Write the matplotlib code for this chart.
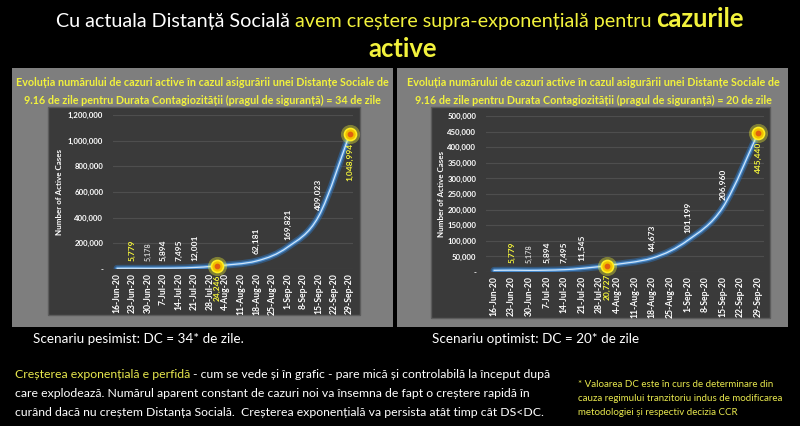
import numpy as np
import matplotlib
matplotlib.use('Agg')
import matplotlib.pyplot as plt
import matplotlib.dates as mdates
from matplotlib.patches import Rectangle, PathPatch
from matplotlib.path import Path

plt.rcParams['font.family'] = ['Lato', 'DejaVu Sans']

# ---- data ----
tick_dates = ['2020-06-16', '2020-06-23', '2020-06-30', '2020-07-07', '2020-07-14',
              '2020-07-21', '2020-07-28', '2020-08-04', '2020-08-11', '2020-08-18',
              '2020-08-25', '2020-09-01', '2020-09-08', '2020-09-15', '2020-09-22',
              '2020-09-29']
tick_labels = ['16-Jun-20', '23-Jun-20', '30-Jun-20', '7-Jul-20', '14-Jul-20',
               '21-Jul-20', '28-Jul-20', '4-Aug-20', '11-Aug-20', '18-Aug-20',
               '25-Aug-20', '1-Sep-20', '8-Sep-20', '15-Sep-20', '22-Sep-20',
               '29-Sep-20']

point_dates = ['2020-06-16', '2020-06-23', '2020-06-30', '2020-07-07', '2020-07-14',
               '2020-07-21', '2020-07-31', '2020-08-18', '2020-09-01', '2020-09-15',
               '2020-09-29']
pes_values = [5200, 5779, 5178, 5894, 7495, 12001, 24246, 62181, 169821, 409023, 1048994]
opt_values = [5200, 5779, 5178, 5894, 7495, 11545, 20727, 44673, 101199, 206960, 445440]

pes_yticks = [0, 200000, 400000, 600000, 800000, 1000000, 1200000]
opt_yticks = [0, 50000, 100000, 150000, 200000, 250000, 300000, 350000, 400000,
              450000, 500000]

highlight = [6, 10]     # points with the yellow marker
yellow_label = [1]      # label drawn in yellow above the point
faint_label = [2]
no_label = [0]

W, H = 800, 426
fig = plt.figure(figsize=(8, 4.26), dpi=100, facecolor='black')
renderer = fig.canvas.get_renderer()

YEL = '#f2f23c'
YEL2 = '#e8e84e'


def fx(x):
    return x / W


def fy(y):
    return 1 - y / H


def rect(x0, y0, x1, y1, **kw):
    fig.add_artist(Rectangle((fx(x0), fy(y1)), (x1 - x0) / W, (y1 - y0) / H,
                             transform=fig.transFigure, **kw))


def text_line(runs, x, y, size, align='left', width=None):
    objs = [fig.text(0, fy(y), s, color=c, fontsize=size * k, fontweight=w,
                     ha='left', va='baseline') for s, c, k, w in runs]

    def measure():
        ws = [t.get_window_extent(renderer).width for t in objs]
        a = fig.text(0, 0, 'a a', fontsize=objs[0].get_fontsize())
        b = fig.text(0, 0, 'aa', fontsize=objs[0].get_fontsize())
        sp = a.get_window_extent(renderer).width - b.get_window_extent(renderer).width
        a.remove()
        b.remove()
        return ws, sp

    ws, sp = measure()
    total = sum(ws) + sp * (len(objs) - 1)
    if width is not None:
        f = width / total
        for t in objs:
            t.set_fontsize(t.get_fontsize() * f)
        size *= f
        ws, sp = measure()
        total = sum(ws) + sp * (len(objs) - 1)
    xx = x - total / 2 if align == 'center' else x
    for t, w in zip(objs, ws):
        t.set_x(fx(xx))
        xx += w + sp
    return size


def smooth_path(xs, ys):
    pts = np.column_stack([xs, ys]).astype(float)
    verts = [pts[0]]
    codes = [Path.MOVETO]
    n = len(pts)
    for i in range(n - 1):
        p0, p1 = pts[max(i - 1, 0)], pts[i]
        p2, p3 = pts[i + 1], pts[min(i + 2, n - 1)]
        verts += [p1 + (p2 - p0) / 6, p2 - (p3 - p1) / 6, p2]
        codes += [Path.CURVE4] * 3
    return Path(verts, codes)


def chart(box, inner, axbox, first_px, last_px, values, yticks, ylab_x):
    rect(*box, facecolor='#7e7e7e', edgecolor='none', zorder=-3)
    rect(*inner, facecolor='#3a3a3a', edgecolor='#5c5c5c', linewidth=1, zorder=-2)
    x0, y0, x1, y1 = axbox
    ax = fig.add_axes([fx(x0), fy(y1), (x1 - x0) / W, (y1 - y0) / H])
    ax.set_facecolor('none')

    tx = mdates.date2num(np.array(tick_dates, dtype='datetime64[D]'))
    px = mdates.date2num(np.array(point_dates, dtype='datetime64[D]'))
    dpp = (tx[-1] - tx[0]) / (last_px - first_px)
    ax.set_xlim(tx[0] - (first_px - x0) * dpp, tx[-1] + (x1 - last_px) * dpp)
    ax.set_ylim(yticks[0], yticks[-1])

    ax.set_xticks(tx)
    ax.set_xticklabels(tick_labels, rotation=90, fontsize=6.2, color='white',
                       fontweight='bold')
    ax.set_yticks(yticks)
    ax.set_yticklabels(['-' if v == 0 else f'{v:,}' for v in yticks],
                       fontsize=5.6, color='white', fontweight='bold')
    ax.tick_params(length=0)
    ax.tick_params(axis='x', pad=3)
    ax.tick_params(axis='y', pad=7)
    for s in ax.spines.values():
        s.set_visible(False)
    ax.grid(axis='y', color='#4e4e4e', linewidth=0.8)
    ax.set_axisbelow(True)

    path = smooth_path(px, values)
    for lw, c, a in [(5, '#2f6eb0', 0.55), (2.6, '#4a8fd4', 0.9), (0.9, '#cfe6fb', 1.0)]:
        ax.add_patch(PathPatch(path, facecolor='none', edgecolor=c, linewidth=lw,
                               alpha=a, capstyle='round', zorder=3))

    for i, (d, v) in enumerate(zip(px, values)):
        if i in no_label:
            continue
        if i in highlight:
            ax.scatter([d], [v], s=190, color='#ffff30', alpha=0.35, zorder=4,
                       linewidths=0, clip_on=False)
            ax.scatter([d], [v], s=75, color='#f0c000', edgecolors='#ffee20',
                       linewidths=1.2, zorder=5, clip_on=False)
            ax.scatter([d], [v], s=10, color='#e06010', zorder=6, clip_on=False)
            ax.annotate(f'{v:,}', (d, v), xytext=(0, -6), textcoords='offset points',
                        rotation=90, ha='center', va='top', fontsize=6,
                        color='#f4f43a', fontweight='bold', zorder=7)
        else:
            col = '#f4f43a' if i in yellow_label else ('#cfcfcf' if i in faint_label else 'white')
            fs = 5.2 if i in faint_label else 6
            ax.annotate(f'{v:,}', (d, v), xytext=(0, 5), textcoords='offset points',
                        rotation=90, ha='center', va='bottom', fontsize=fs,
                        color=col, fontweight='bold', zorder=7)

    fig.text(fx(ylab_x), fy((y0 + y1) / 2), 'Number of Active Cases', rotation=90,
             ha='center', va='center', fontsize=5.8, color='white', fontweight='bold')
    return ax


chart((12, 68, 393, 327), (48, 107, 360, 315), (113, 115, 353, 269), 117, 349.5,
      pes_values, pes_yticks, 60)
chart((397, 68, 788, 327), (431, 107, 770, 318), (486, 116, 764, 272), 494, 758,
      opt_values, opt_yticks, 442)

# ---- title ----
ts = text_line([('Cu actuala Distanță Socială', 'white', 1.0, 'normal'),
                ('avem creștere supra-exponențială pentru', YEL, 1.0, 'normal'),
                ('cazurile', YEL, 1.3, 'bold')], 400, 27, 14, 'center', width=690)
text_line([('active', YEL, 1.3, 'bold')], 403, 57, ts, 'center')

# ---- panel headers ----
hdr1 = 'Evoluția numărului de cazuri active în cazul asigurării unei Distanțe Sociale de'
hs = text_line([(hdr1, YEL, 1.0, 'bold')], 202, 86, 8, 'center', width=372)
text_line([('9.16 de zile pentru Durata Contagiozității (pragul de siguranță) = 34 de zile',
            YEL, 1.0, 'bold')], 202, 104, hs, 'center')
text_line([(hdr1, YEL, 1.0, 'bold')], 593, 86, hs, 'center')
text_line([('9.16 de zile pentru Durata Contagiozității (pragul de siguranță) = 20 de zile',
            YEL, 1.0, 'bold')], 593, 104, hs, 'center')

# ---- bottom texts ----
ss = text_line([('Scenariu pesimist: DC = 34* de zile.', 'white', 1.0, 'normal')],
               33, 343, 9, width=212)
text_line([('Scenariu optimist: DC = 20* de zile', 'white', 1.0, 'normal')], 432, 343, ss)

ps = text_line([('Creșterea exponențială e perfidă', YEL2, 1.0, 'normal'),
                ('- cum se vede și în grafic - pare mică și controlabilă la început după',
                 'white', 1.0, 'normal')], 15, 378, 8, width=538)
text_line([('care explodează. Numărul aparent constant de cazuri noi va însemna de fapt '
            'o creștere rapidă în', 'white', 1.0, 'normal')], 15, 397, ps)
text_line([('curând dacă nu creștem Distanța Socială.  Creșterea exponențială va '
            'persista atât timp cât DS<DC.', 'white', 1.0, 'normal')], 15, 416, ps)

fs_ = text_line([('cauza regimului tranzitoriu indus de modificarea', YEL2, 1.0, 'normal')],
                578, 401, 6, width=207)
text_line([('* Valoarea DC este în curs de determinare din', YEL2, 1.0, 'normal')],
          578, 387, fs_)
text_line([('metodologiei și respectiv decizia CCR', YEL2, 1.0, 'normal')], 578, 415, fs_)

fig.savefig('out.png', dpi=100, facecolor='black')
